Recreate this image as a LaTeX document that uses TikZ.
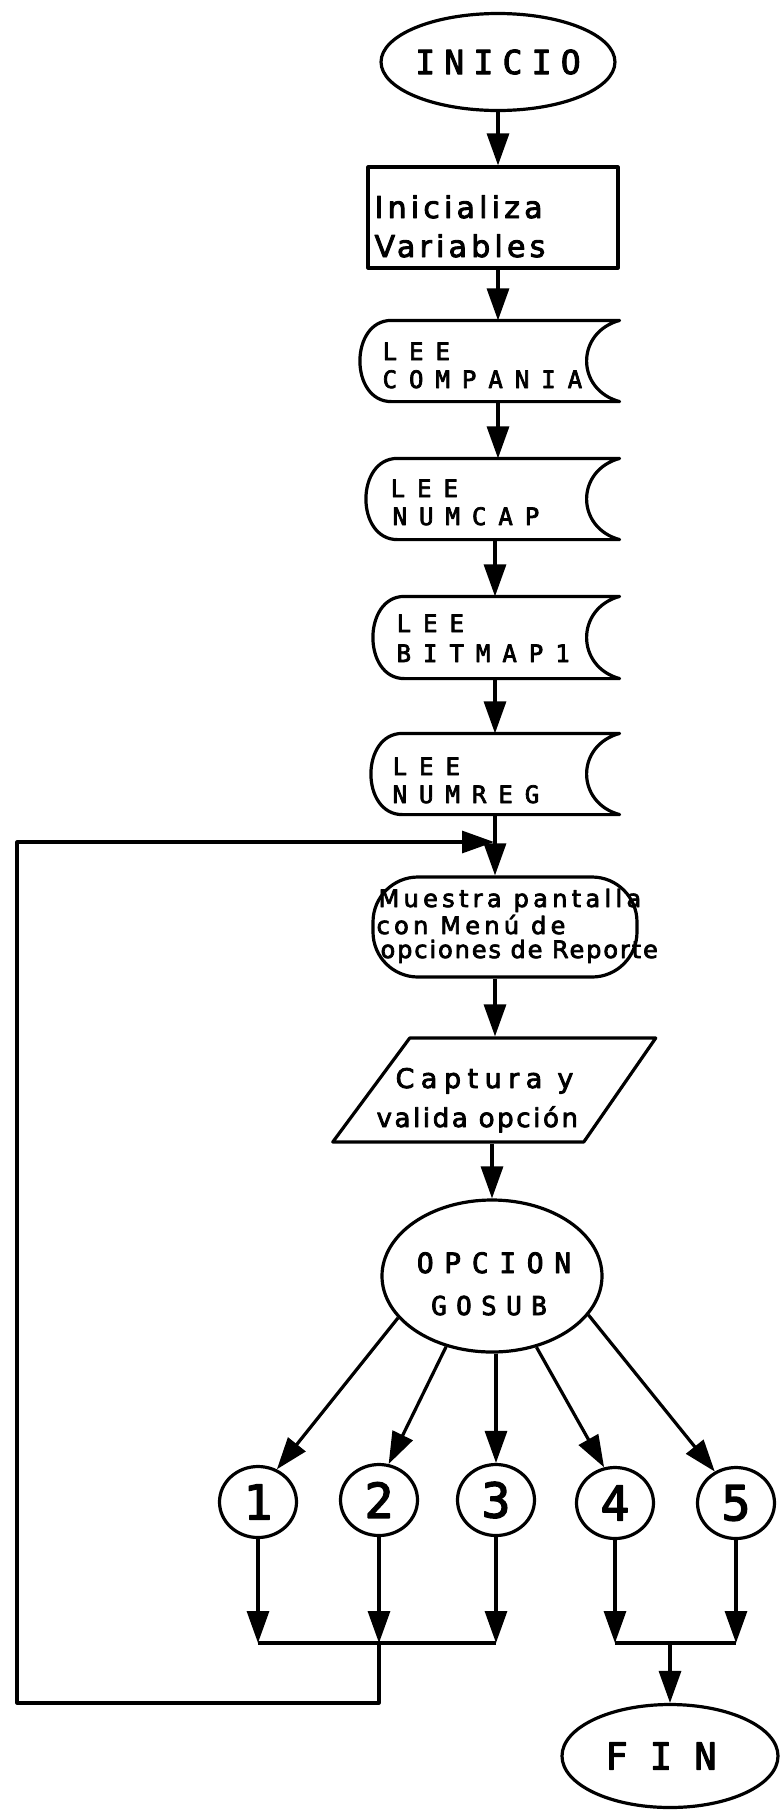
\documentclass[tikz,border=0pt]{standalone}
\usepackage{fontspec}
\setmainfont[FakeBold=3]{DejaVu Sans}
\newfontfamily\monofam[FakeBold=3]{DejaVu Sans Mono}
\usetikzlibrary{arrows.meta,shapes.geometric,calc}
\newcommand\monoF[2]{\monofam\fontsize{#1pt}{#1pt}\selectfont\addfontfeature{LetterSpace=#2}}
\newcommand\lowF[2]{\fontsize{#1pt}{#1pt}\selectfont\addfontfeature{LetterSpace=#2}}
\begin{document}
\begin{tikzpicture}[x=1pt,y=-1pt,line width=3.2pt,line join=round,
  arr/.style={-{Triangle[length=32pt,width=22pt]}},
  term/.style={draw,ellipse,inner sep=0pt},
  store/.style={inner sep=0pt,minimum height=78pt},
  numc/.style={term,minimum width=77pt,minimum height=71pt,font=\monoF{48}{0}},
  tl/.style={anchor=base west,inner sep=0pt},
  tc/.style={anchor=base,inner sep=0pt},
  lbl/.style={tl,font=\monoF{24}{50}}]
\useasboundingbox (0,0) rectangle (780,1810);
\fill[white] (0,0) rectangle (780,1810);

% INICIO
\node[term,minimum width=213pt,minimum height=97pt,font=\monoF{33}{28}] (ini) at (498,62) {INICIO};

% Inicializa variables
\node[draw,inner sep=0pt,minimum width=250pt,minimum height=101pt] (init) at (493,217.5) {};
\node[tl,font=\lowF{30}{14}] (initA) at (373,218) {Inicializa};
\node[tl,font=\lowF{30}{14}] (initB) at (373,257) {Variables};

% stored data shapes
\node[store,minimum width=256pt] (comp) at (490,361) {};
\node[store,minimum width=250pt] (ncap) at (493,499) {};
\node[store,minimum width=243pt,minimum height=79pt] (bmp) at (496.5,637.5) {};
\node[store,minimum width=245pt] (nreg) at (495.5,774) {};
\foreach \n in {comp,ncap,bmp,nreg}{
  \draw ([xshift=31pt]\n.north west) -- (\n.north east)
    .. controls +(-44,12) and +(-44,-12) .. (\n.south east)
    -- ([xshift=31pt]\n.south west)
    .. controls +(-42,0) and +(-42,0) .. ([xshift=31pt]\n.north west) -- cycle;
}
\node[lbl] (compA) at (381,360) {LEE};
\node[lbl] (compB) at (381,388) {COMPANIA};
\node[lbl] (ncapA) at (389,497) {LEE};
\node[lbl] (ncapB) at (391,525) {NUMCAP};
\node[lbl] (bmpA) at (395,632) {LEE};
\node[lbl] (bmpB) at (395,662) {BITMAP1};
\node[lbl] (nregA) at (391,775) {LEE};
\node[lbl] (nregB) at (391,803) {NUMREG};

% Muestra pantalla
\node[draw,inner sep=0pt,rounded corners=45pt,minimum width=264pt,minimum height=100pt] (mues) at (505,927) {};
\node[tl,font=\lowF{24}{18}] (muesA) at (377,907) {Muestra pantalla};
\node[tl,font=\lowF{24}{18}] (muesB) at (375,934) {con Menú de};
\node[tl,font=\lowF{24}{8}] (muesC) at (379,958) {opciones de Reporte};

% Captura y valida opcion
\node[inner sep=0pt,minimum width=160pt,minimum height=104pt] (capt) at (495.75,1090) {};
\draw (capt.center) ++(-86,-52) -- ++(246,0) -- ++(-72,104) -- ++(-251,0) -- cycle;
\node[tl,font=\lowF{27}{24}] (captA) at (394,1088) {Captura y};
\node[tl,font=\lowF{26}{10}] (captB) at (375,1127) {valida opción};

% OPCION GOSUB
\node[term,minimum width=220pt,minimum height=152pt] (opc) at (492,1276) {};
\node[tc,font=\monoF{28}{38}] (opcA) at (494,1273) {OPCION};
\node[tc,font=\monoF{26}{36}] (opcB) at (489,1315) {GOSUB};

% numbered circles
\node[numc] (c1) at (258,1502) {1};
\node[numc] (c2) at (379,1500) {2};
\node[numc] (c3) at (496,1500) {3};
\node[numc] (c4) at (615,1503) {4};
\node[numc] (c5) at (736,1503) {5};

% FIN
\node[term,minimum width=216pt,minimum height=103pt,font=\monoF{37}{60}] (fin) at (670,1756) {FIN\hspace*{18pt}};

% main column connectors
\coordinate (colA) at (498,0);
\coordinate (colB) at (495,0);
\draw[arr] (ini.south) -- (ini.south |- init.north);
\draw[arr] (colA |- init.south) -- (colA |- comp.north);
\draw[arr] (colA |- comp.south) -- (colA |- ncap.north);
\draw[arr] (colB |- ncap.south) -- (colB |- bmp.north);
\draw[arr] (colB |- bmp.south) -- (colB |- nreg.north);
\draw[arr] (colB |- nreg.south) -- (colB |- mues.north);
\draw[arr] (colB |- mues.south) -- (colB |- capt.north);
\draw[arr] (opc.north |- capt.south) -- (opc.north);

% branches
\draw[arr] (opc.204) -- (c1.60);
\draw[arr] (opc.237) -- (c2.75);
\draw[arr] (c3.north |- opc.south) -- (c3.north);
\draw[arr] (opc.302) -- (c4.107);
\draw[arr] (opc.338) -- (c5.124);

% merges
\coordinate (jl) at (0,1643);
\coordinate (lb) at (17,1703);
\coordinate (lt) at (17,842);
\foreach \c in {c1,c2,c3,c4,c5} \draw[arr] (\c.south) -- (\c.south |- jl);
\draw (c1.south |- jl) -- (c3.south |- jl);
\draw (c4.south |- jl) -- (c5.south |- jl);
\draw[arr] (fin.north |- jl) -- (fin.north);
\draw[arr] (c2.south |- jl) -- (c2.south |- lb) -- (lb) -- (lt) -- ([xshift=-1pt]colB |- lt);
\end{tikzpicture}
\end{document}
